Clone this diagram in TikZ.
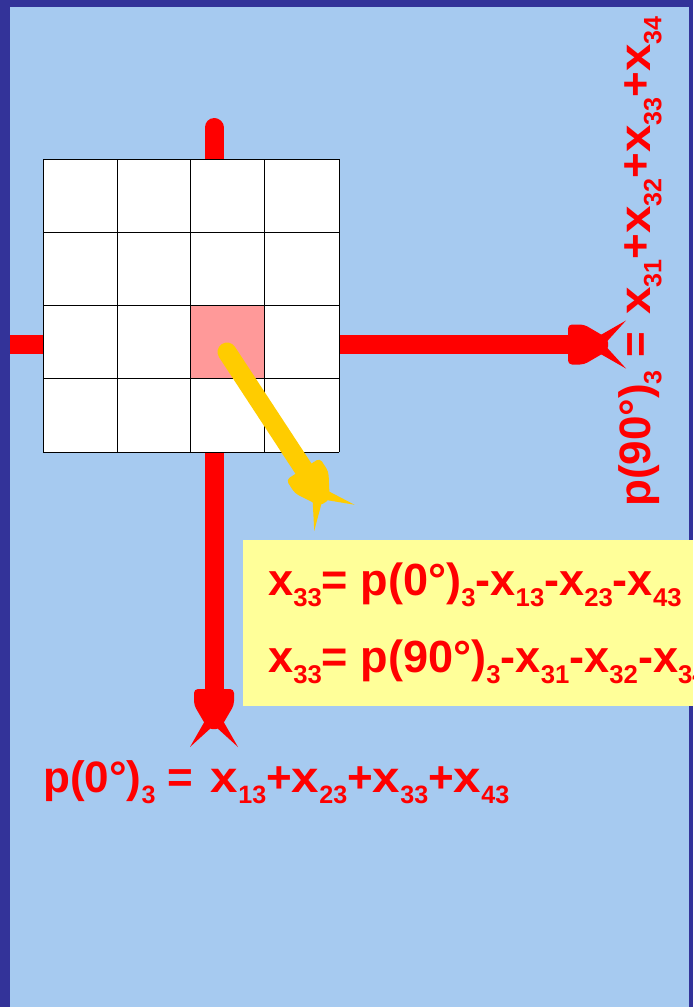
\documentclass[tikz,border=0pt]{standalone}
\usepackage{fontspec}
\setmainfont{Liberation Sans}
\usepackage{graphicx}
\definecolor{bgblue}{HTML}{A6CAF0}
\definecolor{frameblue}{HTML}{333399}
\definecolor{pinkcell}{HTML}{FF9999}
\definecolor{ptryellow}{HTML}{FFCC00}
\definecolor{boxyellow}{HTML}{FFFF99}
\newcommand\sbx[1]{\raisebox{-0.26em}{\scalebox{0.57}{#1}}}
\newcommand\wx{\scalebox{1.12}[1]{x}}
\tikzset{
  ahead/.pic={
    \fill[#1,rounded corners=3pt] (0,-20) -- (16,-20) -- (40,-6) -- (40,6) -- (16,20) -- (0,20) -- cycle;
    \fill[#1] (30,-8) -- (58,-24) -- (38,-2) -- cycle;
    \fill[#1] (30,8) -- (58,24) -- (38,2) -- cycle;
  },
  axisline/.style={draw=red,line width=14.25pt},
  ptrline/.style={draw=ptryellow,line width=14.25pt},
  cell/.style={draw=black,line width=0.75pt},
  eqtext/.style={text=red,font=\bfseries\fontsize{33}{38}\selectfont,inner sep=0pt},
  bigeq/.style={text=red,font=\bfseries\fontsize{33.8}{38}\selectfont,inner sep=0pt},
}
\begin{document}
\begin{tikzpicture}[x=0.75pt,y=-0.75pt]
\useasboundingbox (0,0) rectangle (693,1007);
\clip (0,0) rectangle (693,1007);
% background and frame
\fill[frameblue] (0,0) rectangle (693,1007);
\fill[bgblue] (10,7) rectangle (689,1007);
% named points
\coordinate (hstart) at (10,344.5);
\coordinate (hend) at (572,344.5);
\coordinate (vstart) at (214,127.5);
\coordinate (vend) at (214,693);
\coordinate (ystart) at (227,352);
\coordinate (yend) at (305,471);
% red axis lines
\draw[axisline,line cap=butt] (hstart) -- (hend);
\draw[axisline,line cap=round] (vstart) -- (vend);
\pic[rotate=0] at (568,344.5) {ahead=red};
\pic[rotate=-90] at (214,689) {ahead=red};
% grid
\fill[white] (43.3,159.3) rectangle (339.3,452);
\fill[pinkcell] (190.7,305.7) rectangle (264.3,378.7);
\foreach \gx in {43.3,117.3,190.7,264.3,339.3}
  \draw[cell] (\gx,159.3) -- (\gx,452);
\foreach \gy in {159.3,232,305.7,378.7,452}
  \draw[cell] (43.3,\gy) -- (339.3,\gy);
% yellow pointer
\draw[ptrline,line cap=round] (ystart) -- (yend);
\pic[rotate=-57.2] at (303,469) {ahead=ptryellow};
% formula box
\node[fill=boxyellow,inner sep=0pt,anchor=north west,
      minimum width=450*0.75pt,minimum height=166*0.75pt] (box) at (243,540) {};
\node[bigeq,anchor=base west] (eq1) at (268,595)
  {x\sbx{33}= p(0°)\sbx{3}-x\sbx{13}-x\sbx{23}-x\sbx{43}};
\node[bigeq,anchor=base west] (eq2) at (268,672)
  {x\sbx{33}= p(90°)\sbx{3}-x\sbx{31}-x\sbx{32}-x\sbx{34}};
% sums
\node[eqtext,anchor=base west] (sum0) at (43,792)
  {p(0°)\sbx{3} =\hspace{4pt} \wx\sbx{13}+\wx\sbx{23}+\wx\sbx{33}+\wx\sbx{43}};
\node[eqtext,anchor=base west,rotate=90] (sum90) at (650,507)
  {p(90°)\sbx{3} =\hspace{4pt} \wx\sbx{31}+\wx\sbx{32}+\wx\sbx{33}+\wx\sbx{34}};
\end{tikzpicture}
\end{document}
